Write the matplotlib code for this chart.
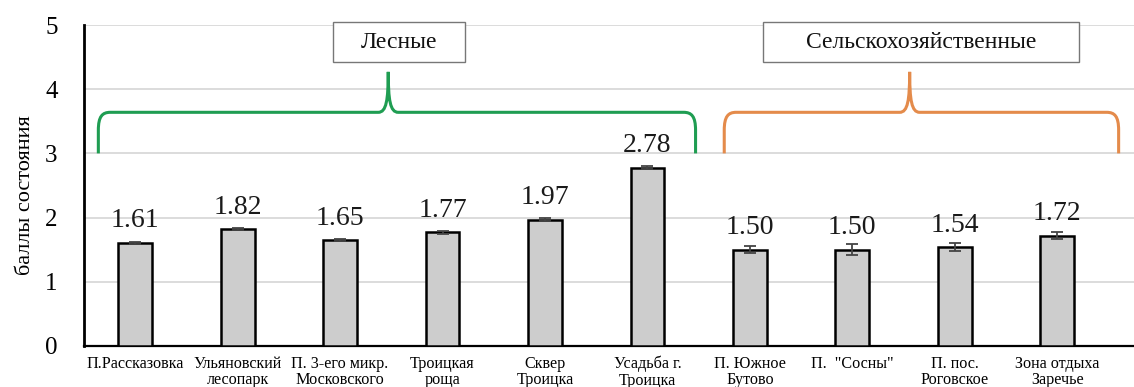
import matplotlib
matplotlib.use("Agg")
import matplotlib.pyplot as plt
from matplotlib.path import Path
from matplotlib.patches import PathPatch, Rectangle

plt.rcParams['font.family'] = ['Liberation Serif', 'DejaVu Serif']

categories = [
    "П.Рассказовка", "Ульяновский\nлесопарк", "П. 3-его микр.\nМосковского",
    "Троицкая\nроща", "Сквер\nТроицка", "Усадьба г.\nТроицка",
    "П. Южное\nБутово", "П.  \"Сосны\"", "П. пос.\nРоговское", "Зона отдыха\nЗаречье",
]
values = [1.61, 1.82, 1.65, 1.77, 1.97, 2.78, 1.50, 1.50, 1.54, 1.72]
errors = [0.015, 0.02, 0.02, 0.02, 0.025, 0.025, 0.055, 0.09, 0.06, 0.06]
value_labels = ["1.61", "1.82", "1.65", "1.77", "1.97", "2.78", "1.50", "1.50", "1.54", "1.72"]
yticks = [0, 1, 2, 3, 4, 5]
group_names = ["Лесные", "Сельскохозяйственные"]

fig = plt.figure(figsize=(11.34, 3.87), dpi=100)
ax = fig.add_axes([84 / 1134, 41 / 387, 1 - 84 / 1134, 321 / 387])

x = list(range(len(categories)))
ax.bar(x, values, width=0.33, color='#cdcdcd', edgecolor='black', linewidth=1.8, zorder=3)
ax.errorbar(x, values, yerr=errors, fmt='none', ecolor='#444444', elinewidth=1.3,
            capsize=4.5, capthick=1.3, zorder=4)

for xi, v, e, lab in zip(x, values, errors, value_labels):
    ax.annotate(lab, (xi, v), xytext=(0, 11), textcoords='offset points',
                ha='center', va='baseline', fontsize=20, color='#1a1a1a', zorder=5)

ax.set_xlim(-0.5, 9.75)
ax.set_ylim(0, 5)
ax.set_yticks(yticks)
ax.set_xticks(x)
ax.set_xticklabels(categories, fontsize=11.6, linespacing=1.05)
ax.tick_params(axis='x', length=0, pad=7)
ax.tick_params(axis='y', length=0, pad=19, labelsize=18)
ax.set_ylabel("баллы состояния", fontsize=16)
ax.yaxis.set_label_coords(-0.047, 0.47)

ax.grid(axis='y', color='#d9d9d9', linewidth=1.3, zorder=0)
ax.set_axisbelow(True)
for s in ['top', 'right']:
    ax.spines[s].set_visible(False)
ax.spines['left'].set_linewidth(2.0)
ax.spines['bottom'].set_linewidth(1.6)
ax.spines['left'].set_zorder(6)

# curly brace drawn in data coordinates; offsets given in pixel-sized units
sx = 1 / 102.5
sy = 1 / 64.2


def brace(xl, xr, xp, ybase, yh, ytop, color):
    verts = [
        (xl, ybase), (xl, yh - 18 * sy),
        (xl, yh - 4 * sy), (xl + 4 * sx, yh), (xl + 12 * sx, yh),
        (xp - 10 * sx, yh),
        (xp - 2 * sx, yh), (xp, yh + 12 * sy), (xp, ytop),
        (xp, yh + 12 * sy), (xp + 2 * sx, yh), (xp + 10 * sx, yh),
        (xr - 12 * sx, yh),
        (xr - 4 * sx, yh), (xr, yh - 4 * sy), (xr, yh - 18 * sy),
        (xr, ybase),
    ]
    codes = [Path.MOVETO, Path.LINETO,
             Path.CURVE4, Path.CURVE4, Path.CURVE4,
             Path.LINETO,
             Path.CURVE4, Path.CURVE4, Path.CURVE4,
             Path.CURVE4, Path.CURVE4, Path.CURVE4,
             Path.LINETO,
             Path.CURVE4, Path.CURVE4, Path.CURVE4,
             Path.LINETO]
    ax.add_patch(PathPatch(Path(verts, codes), fill=False, edgecolor=color,
                           linewidth=2.2, zorder=5, clip_on=False))


brace(-0.36, 5.47, 2.47, 3.0, 3.64, 4.27, '#1f9d52')
brace(5.75, 9.60, 7.56, 3.0, 3.64, 4.27, '#e48b4b')

# group label boxes
for (x0, x1), name in zip([(1.93, 3.22), (6.13, 9.21)], group_names):
    ax.add_patch(Rectangle((x0, 4.42), x1 - x0, 0.63, facecolor='white',
                           edgecolor='#777777', linewidth=1.0, zorder=6, clip_on=False))
    ax.text((x0 + x1) / 2, 4.735, name, ha='center', va='center', fontsize=17,
            color='#111111', zorder=7, clip_on=False)

fig.savefig("out.png", dpi=100)
